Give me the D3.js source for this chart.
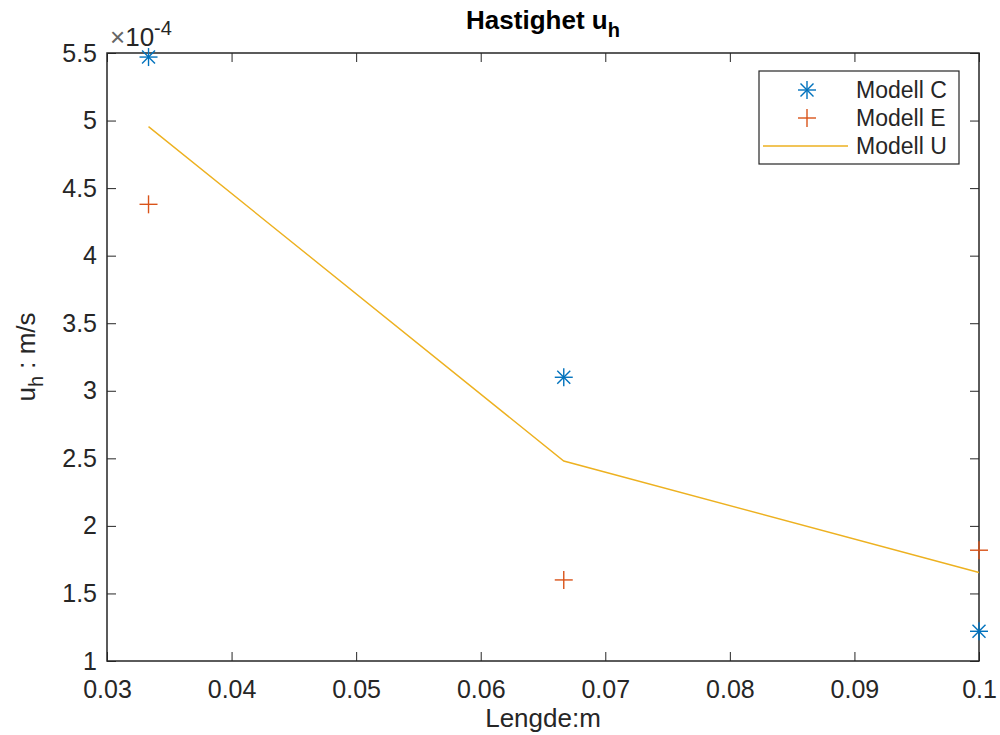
<!DOCTYPE html>
<html>
<head>
<meta charset="utf-8">
<script src="https://d3js.org/d3.v7.min.js"></script>
<style>
  body { margin: 0; background: #fff; }
  text { font-family: "Liberation Sans", Arial, sans-serif; fill: #262626; }
</style>
</head>
<body>
<svg id="chart" width="1000" height="735"></svg>
<script>
// lengths (m) and velocities (x 10^-4 m/s)
var lengths = [1 / 30, 2 / 30, 0.1];
var modellC = [5.47, 3.10, 1.22];
var modellE = [4.38, 1.60, 1.82];
var modellU = [4.955, 2.48, 1.655];
var xTicks = [0.03, 0.04, 0.05, 0.06, 0.07, 0.08, 0.09, 0.1];
var yTicks = [1, 1.5, 2, 2.5, 3, 3.5, 4, 4.5, 5, 5.5];
var seriesNames = ["Modell C", "Modell E", "Modell U"];

var svg = d3.select("#chart"),
    margin = {top: 53, right: 21, bottom: 74, left: 107},
    width = +svg.attr("width") - margin.left - margin.right,
    height = +svg.attr("height") - margin.top - margin.bottom,
    g = svg.append("g").attr("transform", "translate(" + margin.left + "," + margin.top + ")");

var x = d3.scaleLinear().domain([0.03, 0.1]).range([0, width]);
var y = d3.scaleLinear().domain([1, 5.5]).range([height, 0]);

var axisColor = "#262626";
var tickLen = 9;

function styleAxis(sel) {
  sel.select(".domain").remove();
  sel.selectAll(".tick line").attr("stroke", axisColor);
  sel.selectAll(".tick text").style("font-size", "25px").attr("fill", axisColor);
}

// bottom, top, left, right ticks (inward, MATLAB style)
g.append("g").attr("transform", "translate(0," + height + ")")
  .call(d3.axisBottom(x).tickValues(xTicks).tickSize(-tickLen).tickPadding(tickLen + 10)
    .tickFormat(function(d) { return d3.format("")(+d.toFixed(2)); }))
  .call(styleAxis);
g.append("g")
  .call(d3.axisTop(x).tickValues(xTicks).tickSize(-tickLen).tickFormat(""))
  .call(styleAxis);
g.append("g")
  .call(d3.axisLeft(y).tickValues(yTicks).tickSize(-tickLen).tickPadding(tickLen + 1)
    .tickFormat(function(d) { return d3.format("")(d); }))
  .call(styleAxis);
g.append("g").attr("transform", "translate(" + width + ",0)")
  .call(d3.axisRight(y).tickValues(yTicks).tickSize(-tickLen).tickFormat(""))
  .call(styleAxis);

// box
g.append("rect").attr("width", width).attr("height", height)
  .attr("fill", "none").attr("stroke", axisColor).attr("stroke-width", 1.5);

// exponent
var ex = g.append("text").attr("x", 3).attr("y", -7).style("font-size", "26px");
ex.append("tspan").text("\u00d7").attr("fill", "#666");
ex.append("tspan").text("10");
ex.append("tspan").text("-4").attr("dy", -11).style("font-size", "20px");

var colC = "#0072BD", colE = "#D95319", colU = "#EDB120";

// Modell U line
var line = d3.line().x(function(d, i) { return x(lengths[i]); }).y(function(d) { return y(d); });
g.append("path").datum(modellU).attr("d", line)
  .attr("fill", "none").attr("stroke", colU).attr("stroke-width", 1.4);

function star(sel, r) {
  var d = r * 0.72;
  sel.append("line").attr("x1", -r).attr("x2", r).attr("y1", 0).attr("y2", 0);
  sel.append("line").attr("x1", 0).attr("x2", 0).attr("y1", -r).attr("y2", r);
  sel.append("line").attr("x1", -d).attr("x2", d).attr("y1", -d).attr("y2", d);
  sel.append("line").attr("x1", -d).attr("x2", d).attr("y1", d).attr("y2", -d);
}
function plus(sel, r) {
  sel.append("line").attr("x1", -r).attr("x2", r).attr("y1", 0).attr("y2", 0);
  sel.append("line").attr("x1", 0).attr("x2", 0).attr("y1", -r).attr("y2", r);
}

g.selectAll(".mc").data(modellC).enter().append("g")
  .attr("transform", function(d, i) { return "translate(" + x(lengths[i]) + "," + y(d) + ")"; })
  .attr("stroke", colC).attr("stroke-width", 1.4)
  .each(function() { star(d3.select(this), 9); });

g.selectAll(".me").data(modellE).enter().append("g")
  .attr("transform", function(d, i) { return "translate(" + x(lengths[i]) + "," + y(d) + ")"; })
  .attr("stroke", colE).attr("stroke-width", 1.4)
  .each(function() { plus(d3.select(this), 9); });

// title
var title = svg.append("text").attr("x", margin.left + width / 2).attr("y", 29)
  .attr("text-anchor", "middle").style("font-size", "26px").style("font-weight", "bold");
title.append("tspan").text("Hastighet u").attr("fill", "#000");
title.append("tspan").text("h").attr("dy", 8).style("font-size", "20px").attr("fill", "#000");

// x label
svg.append("text").attr("x", margin.left + width / 2).attr("y", 727)
  .attr("text-anchor", "middle").style("font-size", "26px").text("Lengde:m");

// y label
var yl = svg.append("text").attr("transform", "translate(35," + (margin.top + height / 2) + ") rotate(-90)")
  .attr("text-anchor", "middle").style("font-size", "26px");
yl.append("tspan").text("u");
yl.append("tspan").text("h").attr("dy", 8).style("font-size", "20px");
yl.append("tspan").text(" : m/s").attr("dy", -8);

// legend
var lg = svg.append("g").attr("transform", "translate(759,71)");
lg.append("rect").attr("width", 200).attr("height", 93)
  .attr("fill", "#fff").attr("stroke", axisColor).attr("stroke-width", 1.2);
var rows = lg.selectAll(".row").data(seriesNames).enter().append("g")
  .attr("transform", function(d, i) { return "translate(0," + (19 + i * 28) + ")"; });
rows.append("text").attr("x", 97).attr("y", 8).style("font-size", "23px").attr("fill", "#000")
  .text(function(d) { return d; });
rows.each(function(d, i) {
  var r = d3.select(this);
  if (i === 0) star(r.append("g").attr("transform", "translate(48,0)").attr("stroke", colC).attr("stroke-width", 1.4), 9);
  if (i === 1) plus(r.append("g").attr("transform", "translate(48,0)").attr("stroke", colE).attr("stroke-width", 1.4), 9);
  if (i === 2) r.append("line").attr("x1", 4).attr("x2", 89).attr("stroke", colU).attr("stroke-width", 1.4);
});
</script>
</body>
</html>
